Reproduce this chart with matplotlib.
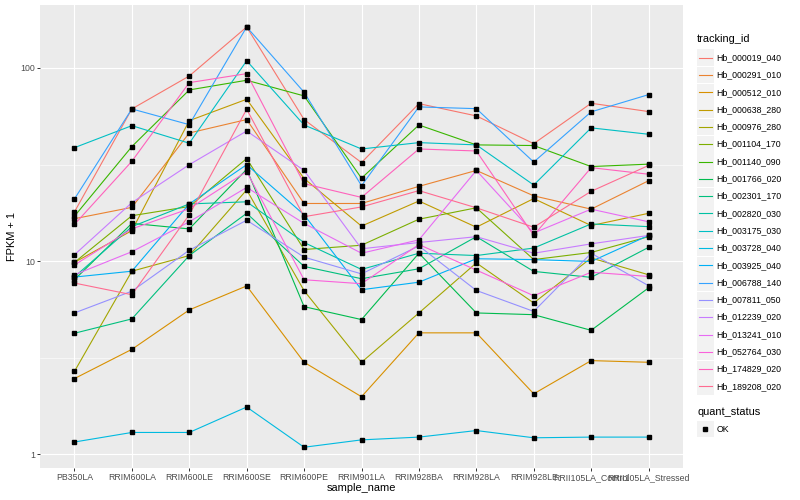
import matplotlib
matplotlib.use("Agg")
import matplotlib.pyplot as plt
from matplotlib.patches import Rectangle
from matplotlib.ticker import FixedLocator, NullFormatter
import numpy as np

plt.rcParams['font.family'] = ['Liberation Sans', 'DejaVu Sans']

samples = ["PB350LA", "RRIM600LA", "RRIM600LE", "RRIM600SE", "RRIM600PE", "RRIM901LA",
           "RRIM928BA", "RRIM928LA", "RRIM928LE", "RRII105LA_Control", "RRII105LA_Stressed"]

tracking_ids = ["Hb_000019_040", "Hb_000291_010", "Hb_000512_010", "Hb_000638_280",
                "Hb_000976_280", "Hb_001104_170", "Hb_001140_090", "Hb_001766_020",
                "Hb_002301_170", "Hb_002820_030", "Hb_003175_030", "Hb_003728_040",
                "Hb_003925_040", "Hb_006788_140", "Hb_007811_050", "Hb_012239_020",
                "Hb_013241_010", "Hb_052764_030", "Hb_174829_020", "Hb_189208_020"]

# ggplot hue palette, 20 levels
colors = ["#F8766D", "#EA8331", "#D89000", "#C09B00", "#A3A500", "#7CAE00", "#39B600",
          "#00BB4E", "#00BF7D", "#00C1A3", "#00BFC4", "#00BAE0", "#00B0F6", "#35A2FF",
          "#9590FF", "#C77CFF", "#E76BF3", "#FA62DB", "#FF62BC", "#FF6C91"]

# FPKM + 1 per sample
hb_000019_040 = [18.0, 61.4, 90.9, 163, 54.1, 32.4, 65.4, 56.5, 40.6, 65.7, 59.5]
hb_000291_010 = [16.6, 19.0, 46.1, 54.1, 19.9, 19.9, 24.4, 29.5, 21.8, 18.6, 26.1]
hb_000512_010 = [2.47, 3.50, 5.6, 7.45, 3.0, 1.99, 4.26, 4.26, 2.06, 3.06, 3.0]
hb_000638_280 = [9.86, 14.4, 53.4, 68.9, 26.8, 15.2, 20.5, 15.0, 21.1, 15.3, 17.7]
hb_000976_280 = [2.69, 8.88, 10.7, 23.4, 7.04, 3.0, 5.40, 9.8, 6.08, 10.4, 8.51]
hb_001104_170 = [9.86, 17.2, 19.2, 34.0, 11.5, 12.1, 16.5, 18.9, 10.2, 11.1, 13.4]
hb_001140_090 = [17.1, 39.2, 77.0, 86.4, 71.7, 26.9, 50.7, 40.0, 39.7, 30.9, 31.8]
hb_001766_020 = [8.02, 15.7, 14.7, 29.9, 5.82, 4.99, 11.0, 5.40, 5.29, 4.39, 7.28]
hb_002301_170 = [4.24, 5.03, 10.7, 17.7, 9.4, 8.12, 9.14, 13.4, 8.86, 8.25, 11.8]
hb_002820_030 = [8.3, 15.1, 19.8, 20.3, 12.5, 9.07, 11.0, 10.7, 11.7, 15.6, 15.1]
hb_003175_030 = [38.7, 50.3, 40.8, 109, 50.7, 38.1, 41.1, 40.0, 24.8, 49.0, 45.4]
hb_003728_040 = [1.16, 1.30, 1.30, 1.76, 1.09, 1.19, 1.23, 1.33, 1.22, 1.23, 1.23]
hb_003925_040 = [8.28, 8.88, 19.8, 31.6, 17.4, 7.12, 7.79, 10.3, 10.2, 9.97, 13.6]
hb_006788_140 = [21.0, 61.4, 50.9, 163, 74.9, 24.6, 62.9, 61.6, 32.6, 59.3, 72.8]
hb_007811_050 = [5.40, 7.0, 11.4, 16.3, 10.5, 8.6, 12.0, 7.06, 5.5, 11.0, 7.47]
hb_012239_020 = [10.8, 20.1, 31.6, 47.2, 29.5, 11.6, 12.5, 13.4, 11.0, 12.3, 13.6]
hb_013241_010 = [8.51, 11.2, 16.0, 24.1, 15.7, 11.0, 12.9, 29.5, 14.0, 18.6, 16.0]
hb_052764_030 = [9.56, 14.7, 18.7, 29.1, 8.02, 7.65, 12.2, 9.0, 6.63, 8.77, 8.34]
hb_174829_020 = [15.5, 32.9, 84.0, 93.5, 25.2, 21.4, 38.1, 37.2, 13.6, 30.5, 28.2]
hb_189208_020 = [7.71, 6.71, 17.4, 61.2, 17.0, 19.1, 23.2, 18.9, 15.0, 23.0, 31.3]

series = [hb_000019_040, hb_000291_010, hb_000512_010, hb_000638_280, hb_000976_280,
          hb_001104_170, hb_001140_090, hb_001766_020, hb_002301_170, hb_002820_030,
          hb_003175_030, hb_003728_040, hb_003925_040, hb_006788_140, hb_007811_050,
          hb_012239_020, hb_013241_010, hb_052764_030, hb_174829_020, hb_189208_020]

W, H = 800, 500
fig = plt.figure(figsize=(8, 5), dpi=100)
fig.patch.set_facecolor("white")

ax = fig.add_axes([40 / W, 32 / H, 643 / W, 463 / H])
ax.set_facecolor("#EBEBEB")
x = np.arange(1, len(samples) + 1)

for vals, col in zip(series, colors):
    ax.plot(x, vals, color=col, lw=0.8, zorder=3)
for vals in series:
    ax.plot(x, vals, ls="none", marker="s", ms=2.3, color="black", zorder=4)

ax.set_yscale("log")
ax.set_xlim(0.4, len(samples) + 0.6)
ax.set_ylim(10 ** -0.07, 10 ** 2.326)
ax.set_yticks([1, 10, 100])
ax.set_yticklabels(["1", "10", "100"])
ax.yaxis.set_minor_locator(FixedLocator([10 ** 0.5, 10 ** 1.5]))
ax.yaxis.set_minor_formatter(NullFormatter())
ax.set_xticks(x)
ax.set_xticklabels(samples)

ax.grid(which="major", color="white", lw=0.8, zorder=1)
ax.grid(which="minor", axis="y", color="white", lw=0.4, zorder=1)
ax.set_axisbelow(True)
for s in ax.spines.values():
    s.set_visible(False)
ax.tick_params(which="major", length=2.0, width=0.7, color="#333333",
               labelsize=6.3, labelcolor="#4D4D4D", pad=1.6)
ax.tick_params(which="minor", length=0)

ax.set_xlabel("sample_name", fontsize=7.9, labelpad=1)
ax.set_ylabel("FPKM + 1", fontsize=7.9, labelpad=2)

# legend drawn in pixel space
lg = fig.add_axes([685 / W, 0, 115 / W, 1])
lg.set_xlim(685, 800)
lg.set_ylim(H, 0)
lg.axis("off")

lg.text(697, 39, "tracking_id", fontsize=7.9, va="center", ha="left")
y0, step = 57.7, 17.3
for i, (name, col) in enumerate(zip(tracking_ids, colors)):
    yc = y0 + i * step
    lg.add_patch(Rectangle((697, yc - 8.4), 16.8, 16.8, facecolor="#F2F2F2", edgecolor="none"))
    lg.plot([698.5, 711.5], [yc, yc], color=col, lw=0.8)
    lg.text(716.5, yc, name, fontsize=6.3, va="center", ha="left")

lg.text(697, 412, "quant_status", fontsize=7.9, va="center", ha="left")
lg.add_patch(Rectangle((697, 420.6), 16.8, 16.8, facecolor="#F2F2F2", edgecolor="none"))
lg.plot([705.4], [429], ls="none", marker="s", ms=2.3, color="black")
lg.text(716.5, 429, "OK", fontsize=6.3, va="center", ha="left")

fig.savefig("out.png", dpi=100)
